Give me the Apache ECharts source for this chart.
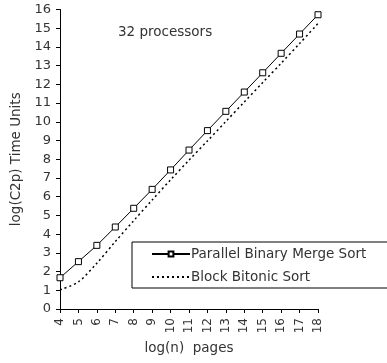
<!DOCTYPE html>
<html><head><meta charset="utf-8">
<script src="https://cdn.jsdelivr.net/npm/echarts@6/dist/echarts.min.js"></script>
<style>html,body{margin:0;padding:0;background:#fff}#c{width:387px;height:363px}</style>
</head><body><div id="c"></div>
<script>
const logN = [4,5,6,7,8,9,10,11,12,13,14,15,16,17,18];
const mergeSort = [1.67,2.53,3.40,4.38,5.38,6.39,7.43,8.49,9.53,10.56,11.59,12.62,13.66,14.69,15.72];
const bitonicSort = [1.02,1.45,2.45,3.6,4.72,5.82,6.9,7.95,8.98,10.02,11.06,12.1,13.13,14.18,15.25];
const yTicks = {min:0, max:16, interval:1};
const seriesNames = ['Parallel Binary Merge Sort','Block Bitonic Sort'];
const FONT = 'DejaVu Sans';
const TXT = '#333';
const chart = echarts.init(document.getElementById('c'), null, {renderer:'canvas'});
chart.setOption({
  animation:false,
  textStyle:{fontFamily:FONT},
  title:{text:'32 processors', left:118, top:25, padding:0, textStyle:{fontFamily:FONT, fontSize:13.5, fontWeight:'normal', color:TXT}},
  grid:{left:60, right:69, top:9.5, bottom:54, containLabel:false},
  legend:{
    left:132, top:242, orient:'vertical', itemGap:9, itemWidth:38, itemHeight:6,
    padding:[5,60,4,19], borderColor:'#000', borderWidth:1, backgroundColor:'#fff',
    textStyle:{fontFamily:FONT, fontSize:13.5, lineHeight:14, color:TXT, padding:[0,0,0,-4]},
    data:[{name:seriesNames[0]}, {name:seriesNames[1], itemStyle:{opacity:0}}]
  },
  xAxis:{
    type:'value', min:4, max:18, interval:1,
    name:'log(n)  pages', nameLocation:'middle', nameGap:26,
    nameTextStyle:{fontFamily:FONT, fontSize:13.5, color:TXT},
    axisLine:{lineStyle:{color:'#000', width:1}},
    axisTick:{show:true, length:4, lineStyle:{color:'#000'}},
    axisLabel:{rotate:90, margin:9, fontFamily:FONT, fontSize:12, color:TXT},
    splitLine:{show:false}
  },
  yAxis:{
    type:'value', min:yTicks.min, max:yTicks.max, interval:yTicks.interval,
    name:'log(C2p) Time Units', nameLocation:'middle', nameGap:34,
    nameTextStyle:{fontFamily:FONT, fontSize:13.5, color:TXT},
    axisLine:{show:true, lineStyle:{color:'#000', width:1}},
    axisTick:{show:true, length:4, lineStyle:{color:'#000'}},
    axisLabel:{margin:9, fontFamily:FONT, fontSize:13, color:TXT},
    splitLine:{show:false}
  },
  series:[
    {name:seriesNames[0], type:'line', data:logN.map((x,i)=>[x,mergeSort[i]]),
     symbol:'rect', symbolSize:6, showSymbol:true,
     itemStyle:{color:'#fff', borderColor:'#000', borderWidth:1},
     lineStyle:{color:'#000', width:1}, z:3},
    {name:seriesNames[1], type:'line', data:logN.map((x,i)=>[x,bitonicSort[i]]),
     symbol:'none', smooth:0.3,
     itemStyle:{color:'#000'},
     lineStyle:{color:'#000', width:1.5, type:[2,3]}, z:2}
  ]
});
</script></body></html>
